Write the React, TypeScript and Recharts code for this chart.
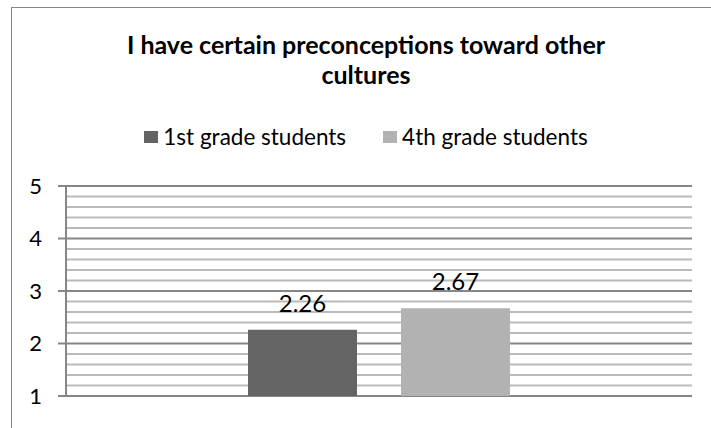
import { Bar, BarChart, CartesianGrid, LabelList, ReferenceLine, XAxis, YAxis } from "recharts"

const categories = ["Q"]
const seriesNames = ["1st grade students", "4th grade students"]
const seriesColors = ["#646464", "#b2b2b2"]
const firstGrade = [2.26]
const fourthGrade = [2.67]
const yTicks = [1, 2, 3, 4, 5]
const minorTicks = [1.2, 1.4, 1.6, 1.8, 2.2, 2.4, 2.6, 2.8, 3.2, 3.4, 3.6, 3.8, 4.2, 4.4, 4.6, 4.8]

const data = categories.map((name, i) => ({
  name,
  first: firstGrade[i],
  fourth: fourthGrade[i],
}))

const font = "Lato, 'Open Sans', sans-serif"
const chartMargin = { top: 186, right: 19, bottom: 32, left: 6 }

export default function App() {
  return (
    <div style={{ position: "fixed", left: 0, top: 0, width: 711, height: 428, overflow: "hidden", background: "#fff" }}>
      <div
        style={{
          position: "absolute",
          left: 11,
          top: 7,
          width: 710,
          height: 440,
          border: "1px solid #868686",
        }}
      />
      <div
        style={{
          position: "absolute",
          left: 11,
          width: 710,
          top: 29,
          textAlign: "center",
          fontFamily: font,
          fontWeight: "bold",
          fontSize: 25,
          lineHeight: "30px",
          color: "#000",
        }}
      >
        I have certain preconceptions toward other
        <br />
        cultures
      </div>
      <div
        style={{
          position: "absolute",
          left: 11,
          width: 710,
          top: 122,
          display: "flex",
          justifyContent: "center",
          fontFamily: font,
          fontSize: 22.5,
          lineHeight: "30px",
          color: "#000",
        }}
      >
        {seriesNames.map((n, i) => (
          <div key={n} style={{ display: "flex", alignItems: "center", marginLeft: i ? 37 : 0 }}>
            <span style={{ width: 14, height: 12, background: seriesColors[i], display: "inline-block", marginRight: 5 }} />
            <span>{n}</span>
          </div>
        ))}
      </div>
      {/* minor gridlines: a chart underneath with the same layout and invisible bars */}
      <div style={{ position: "absolute", left: 0, top: 0 }}>
        <BarChart width={711} height={428} data={data} margin={chartMargin}>
          <CartesianGrid vertical={false} stroke="#bababa" strokeWidth={2} />
          <XAxis dataKey="name" height={0} tick={false} tickLine={false} axisLine={false} />
          <YAxis width={60} domain={[1, 5]} ticks={minorTicks} tick={false} tickLine={false} axisLine={false} />
          <Bar dataKey="first" fill="none" isAnimationActive={false} />
          {minorTicks.map((v) => (
            <ReferenceLine key={v} y={v} stroke="#bababa" strokeWidth={2} />
          ))}
        </BarChart>
      </div>
      <div style={{ position: "absolute", left: 0, top: 0 }}>
        <BarChart width={711} height={428} data={data} margin={chartMargin} barSize={109} barGap={44}>
          <CartesianGrid vertical={false} stroke="#868686" strokeWidth={2} />
          <XAxis dataKey="name" height={0} tick={false} tickLine={false} axisLine={{ stroke: "#868686", strokeWidth: 2 }} />
          <YAxis
            width={60}
            domain={[1, 5]}
            ticks={yTicks}
            tickSize={8}
            tickMargin={16}
            tickLine={{ stroke: "#868686", strokeWidth: 2 }}
            axisLine={{ stroke: "#868686", strokeWidth: 2 }}
            tick={{ fill: "#000", fontSize: 22, fontFamily: font }}
          />
          <Bar dataKey="first" name={seriesNames[0]} fill={seriesColors[0]} isAnimationActive={false}>
            <LabelList dataKey="first" position="top" offset={18} fill="#000" fontSize={24} fontFamily={font} />
          </Bar>
          <Bar dataKey="fourth" name={seriesNames[1]} fill={seriesColors[1]} isAnimationActive={false}>
            <LabelList dataKey="fourth" position="top" offset={18} fill="#000" fontSize={24} fontFamily={font} />
          </Bar>
        </BarChart>
      </div>
    </div>
  )
}
